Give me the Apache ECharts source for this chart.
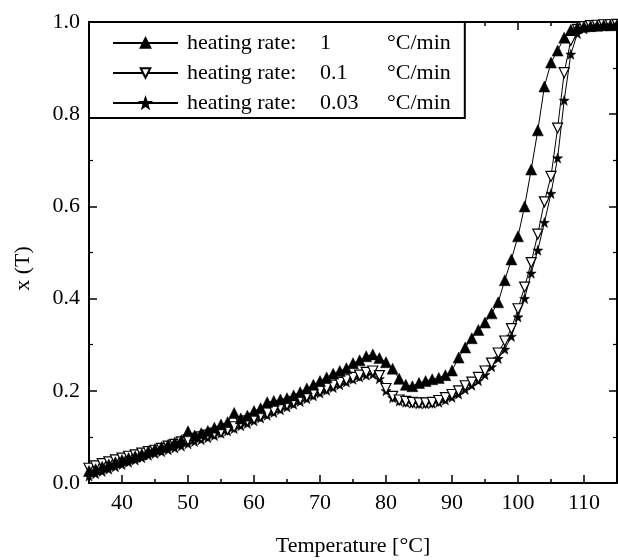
<!DOCTYPE html>
<html><head><meta charset="utf-8">
<script src="https://cdn.jsdelivr.net/npm/echarts@6/dist/echarts.min.js"></script>
<style>html,body{margin:0;padding:0;background:#fff}#c{width:618px;height:560px}</style>
</head><body><div id="c"></div>
<script>
const temperature = [35,36,37,38,39,40,41,42,43,44,45,46,47,48,49,50,51,52,53,54,55,56,57,58,59,60,61,62,63,64,65,66,67,68,69,70,71,72,73,74,75,76,77,78,79,80,81,82,83,84,85,86,87,88,89,90,91,92,93,94,95,96,97,98,99,100,101,102,103,104,105,106,107,108,109,110,111,112,113,114,115];
const xRate1 = [0.026,0.030,0.035,0.040,0.045,0.050,0.054,0.058,0.063,0.069,0.074,0.078,0.083,0.088,0.093,0.112,0.103,0.108,0.113,0.120,0.127,0.132,0.152,0.140,0.146,0.156,0.162,0.175,0.178,0.181,0.184,0.190,0.197,0.205,0.213,0.221,0.229,0.237,0.243,0.249,0.260,0.266,0.275,0.279,0.271,0.262,0.248,0.226,0.213,0.210,0.217,0.221,0.225,0.228,0.234,0.244,0.272,0.294,0.314,0.332,0.348,0.368,0.392,0.440,0.485,0.535,0.600,0.680,0.765,0.860,0.912,0.938,0.966,0.983,0.988,0.990,0.991,0.992,0.993,0.993,0.994];
const xRate01 = [0.032,0.037,0.042,0.046,0.050,0.054,0.058,0.061,0.065,0.068,0.071,0.075,0.080,0.084,0.089,0.093,0.097,0.100,0.104,0.108,0.111,0.116,0.122,0.130,0.135,0.140,0.146,0.152,0.158,0.164,0.170,0.176,0.182,0.188,0.194,0.200,0.206,0.212,0.218,0.224,0.229,0.234,0.240,0.243,0.233,0.205,0.188,0.180,0.177,0.175,0.174,0.174,0.175,0.179,0.185,0.192,0.200,0.211,0.219,0.229,0.243,0.260,0.282,0.308,0.335,0.378,0.425,0.478,0.540,0.610,0.665,0.770,0.890,0.960,0.984,0.990,0.992,0.993,0.994,0.994,0.995];
const xRate003 = [0.015,0.020,0.025,0.030,0.035,0.040,0.045,0.050,0.055,0.060,0.064,0.068,0.072,0.076,0.080,0.085,0.090,0.094,0.098,0.103,0.108,0.113,0.118,0.124,0.129,0.135,0.141,0.147,0.153,0.159,0.165,0.171,0.177,0.183,0.189,0.195,0.201,0.207,0.213,0.219,0.225,0.230,0.234,0.236,0.226,0.200,0.185,0.178,0.175,0.173,0.172,0.172,0.173,0.175,0.180,0.186,0.193,0.203,0.212,0.222,0.235,0.252,0.270,0.290,0.318,0.360,0.400,0.455,0.505,0.565,0.628,0.705,0.830,0.930,0.975,0.985,0.990,0.992,0.993,0.994,0.995];
const rateLabels = ['1', '0.1', '0.03'];
const seriesNames = ['r1', 'r01', 'r003'];
const xMajorTicks = [40, 50, 60, 70, 80, 90, 100, 110];
const xAxisName = 'Temperature [°C]';
const yAxisName = 'x (T)';
const unitLabel = '°C/min';
const prefixLabel = 'heating rate:';

const FONT = '"Liberation Serif", "Times New Roman", serif';
const STAR = 'path://M0,-10 L2.35,-3.24 L9.51,-3.09 L3.8,1.24 L5.88,8.09 L0,4 L-5.88,8.09 L-3.8,1.24 L-9.51,-3.09 L-2.35,-3.24 Z';

function pairs(vals){ return temperature.map((t,i)=>[t, vals[i]]); }

const chart = echarts.init(document.getElementById('c'), null, {renderer:'canvas'});
const blackLine = {color:'#000', width:2};
function xAxisDef(pos, major, withLabels){
  const ax = {
    type:'value', min:35, max:115, interval:5, position:pos, gridIndex:0, offset:0,
    splitLine:{show:false},
    axisLine:{show:major, onZero:false, lineStyle:blackLine},
    axisTick:{inside:true, length: major ? 8 : 4, lineStyle:{color:'#000', width:1.5}},
    axisLabel:{show:false}
  };
  if (major) {
    ax.axisTick.customValues = xMajorTicks;
    if (withLabels) {
      ax.axisLabel = {show:true, customValues:xMajorTicks, fontFamily:FONT, fontSize:22, color:'#000', margin:9};
      ax.name = xAxisName; ax.nameLocation = 'middle'; ax.nameGap = 52;
      ax.nameTextStyle = {fontFamily:FONT, fontSize:22, color:'#000'};
    }
  }
  return ax;
}
function yAxisDef(pos, withLabels){
  const ax = {
    type:'value', min:0, max:1, interval:0.2, position:pos, offset:0,
    splitLine:{show:false},
    axisLine:{onZero:false, lineStyle:blackLine},
    axisTick:{inside:true, length:8, lineStyle:{color:'#000', width:1.5}},
    minorTick:{show:true, splitNumber:2, length:4, lineStyle:{color:'#000', width:1.2}},
    axisLabel:{show:false}
  };
  if (withLabels) {
    ax.axisLabel = {show:true, fontFamily:FONT, fontSize:22, color:'#000', margin:9,
      formatter:function(v){ return v.toFixed(1); }};
    ax.name = yAxisName; ax.nameLocation = 'middle'; ax.nameGap = 55;
    ax.nameTextStyle = {fontFamily:FONT, fontSize:22, color:'#000', padding:[0,32,0,0]};
  }
  return ax;
}
const option = {
  backgroundColor:'#fff',
  animation:false,
  grid:{left:89, right:1, top:22, bottom:77, containLabel:false, outerBoundsMode:'none'},
  legend:{
    left:89, top:22, orient:'vertical',
    backgroundColor:'#fff',
    borderColor:'#000', borderWidth:2,
    padding:[10, 14, 4, 23],
    itemWidth:65, itemHeight:12, itemGap:8,
    data: seriesNames,
    formatter: function(name){
      const i = seriesNames.indexOf(name);
      return '{a|' + prefixLabel + '}{b|' + rateLabels[i] + '}{c|' + unitLabel + '}';
    },
    textStyle:{
      fontFamily:FONT, fontSize:22, color:'#000',
      rich:{
        a:{fontFamily:FONT, fontSize:22, color:'#000', width:133, lineHeight:22, padding:[0,0,0,4]},
        b:{fontFamily:FONT, fontSize:22, color:'#000', width:67, lineHeight:22},
        c:{fontFamily:FONT, fontSize:22, color:'#000', lineHeight:22}
      }
    }
  },
  xAxis:[
    xAxisDef('bottom', true, true),
    xAxisDef('top', true, false),
    xAxisDef('bottom', false, false),
    xAxisDef('top', false, false)
  ],
  yAxis:[
    yAxisDef('left', true),
    yAxisDef('right', false)
  ],
  series:[
    {name:seriesNames[0], type:'line', data:pairs(xRate1), z:5,
     symbol:'triangle', symbolSize:11,
     itemStyle:{color:'#000', borderColor:'#000', borderWidth:0.5},
     lineStyle:{color:'#000', width:1}},
    {name:seriesNames[1], type:'line', data:pairs(xRate01), z:4,
     symbol:'triangle', symbolSize:10, symbolRotate:180,
     itemStyle:{color:'#fff', borderColor:'#000', borderWidth:1.2},
     lineStyle:{color:'#000', width:1}},
    {name:seriesNames[2], type:'line', data:pairs(xRate003), z:3,
     symbol:STAR, symbolSize:10,
     itemStyle:{color:'#000', borderColor:'#000', borderWidth:0.5},
     lineStyle:{color:'#000', width:1}}
  ]
};
chart.setOption(option);
</script>
</body></html>
